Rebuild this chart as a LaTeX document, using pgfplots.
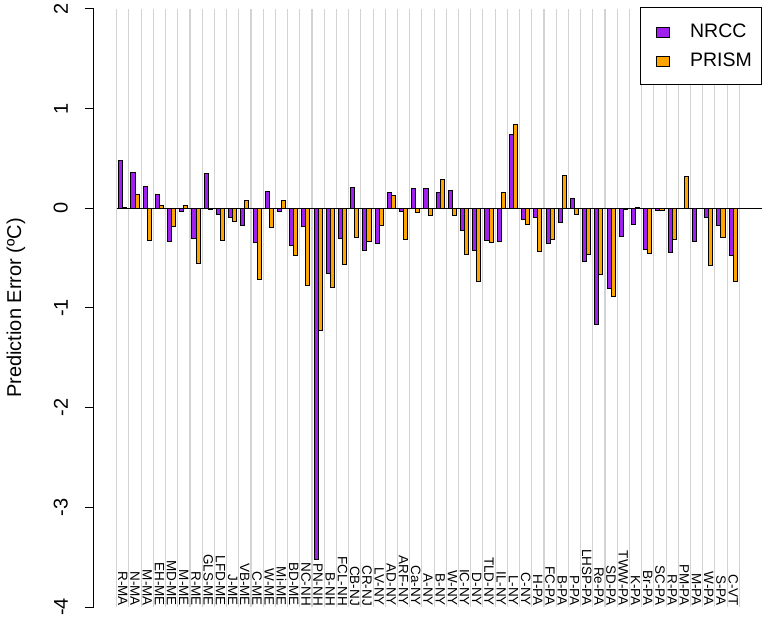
\documentclass[border=0pt]{standalone}
\usepackage{fontspec}
\setmainfont{Liberation Sans}
\usepackage{pgfplots}
\usepackage{pgfplotstable}
\pgfplotsset{compat=1.18}
\definecolor{nrcc}{HTML}{A020F0}
\definecolor{prism}{HTML}{FFA500}
\definecolor{gridgray}{RGB}{211,211,211}
\pgfplotstableread{
k nrcc prism
1 0.48 0.01
2 0.36 0.14
3 0.22 -0.32
4 0.14 0.03
5 -0.33 -0.18
6 -0.03 0.03
7 -0.30 -0.55
8 0.35 -0.01
9 -0.06 -0.32
10 -0.09 -0.13
11 -0.17 0.08
12 -0.34 -0.71
13 0.17 -0.19
14 -0.03 0.08
15 -0.37 -0.47
16 -0.18 -0.77
17 -3.52 -1.23
18 -0.65 -0.79
19 -0.30 -0.56
20 0.21 -0.29
21 -0.42 -0.33
22 -0.35 -0.17
23 0.16 0.13
24 -0.03 -0.31
25 0.20 -0.04
26 0.20 -0.07
27 0.16 0.29
28 0.18 -0.07
29 -0.22 -0.46
30 -0.42 -0.73
31 -0.32 -0.34
32 -0.33 0.16
33 0.74 0.84
34 -0.11 -0.16
35 -0.09 -0.43
36 -0.35 -0.31
37 -0.14 0.33
38 0.10 -0.06
39 -0.53 -0.46
40 -1.17 -0.66
41 -0.80 -0.88
42 -0.28 -0.01
43 -0.16 0.01
44 -0.41 -0.45
45 -0.02 -0.02
46 -0.44 -0.31
47 -0.005 0.32
48 -0.33 0.00
49 -0.09 -0.57
50 -0.17 -0.29
51 -0.47 -0.73
}\datatable
\begin{document}
\begin{tikzpicture}
\path[use as bounding box] (-94bp,-12bp) rectangle (674bp,607bp);
\begin{axis}[
  at={(0,0)}, anchor=south west,
  scale only axis,
  width=668bp, height=598bp,
  xmin=-1.36, xmax=53.36,
  ymin=-4, ymax=2,
  axis x line=bottom,
  axis y line=left,
  x axis line style={draw=none},
  y axis line style={-, line width=1bp, black},
  xtick={1,...,51},
  xticklabels={R-MA,N-MA,M-MA,EH-ME,MD-ME,M-ME,R-ME,GLS-ME,LFD-ME,J-ME,VB-ME,C-ME,W-ME,Mi-ME,BD-ME,NC-NH,PN-NH,B-NH,FCL-NH,CB-NJ,CR-NJ,LV-NY,AD-NY,ARF-NY,Ca-NY,A-NY,B-NY,W-NY,IC-NY,D-NY,TLD-NY,IL-NY,L-NY,C-NY,H-PA,FC-PA,B-PA,P-PA,LHSP-PA,Re-PA,SD-PA,TWW-PA,K-PA,Br-PA,SC-PA,R-PA,PM-PA,M-PA,W-PA,S-PA,C-VT},
  minor xtick={0.5,1.5,...,51.5},
  xminorgrids,
  minor grid style={draw=gridgray, line width=1.1bp},
  xtick style={draw=none},
  minor x tick style={draw=none},
  xticklabel style={rotate=-90, anchor=east, inner sep=0pt, font=\fontsize{13.5bp}{16bp}\selectfont},
  xticklabel shift=-10bp,
  ytick={-4,-3,-2,-1,0,1,2},
  yticklabels={-4,-3,-2,-1,0,1,2},
  ytick align=outside,
  ytick style={line width=1bp, black},
  major tick length=9bp,
  yticklabel style={rotate=90, anchor=south, inner sep=0pt, font=\fontsize{20bp}{24bp}\selectfont},
  yticklabel shift=17bp,
  ylabel={Prediction Error (ºC)},
  every axis y label/.style={at={([xshift=-78bp]rel axis cs:0,0.5)}, anchor=center, rotate=90, font=\fontsize{20bp}{24bp}\selectfont},
  ybar, bar width=0.3333,
  legend cell align=left,
  legend style={at={(rel axis cs:1,1)}, anchor=north east, yshift=2bp, draw=black, line width=1.2bp,
    inner xsep=9.5bp, inner ysep=16.5bp, column sep=20bp, row sep=14bp,
    nodes={inner sep=0pt}, font=\fontsize{19.5bp}{23bp}\selectfont},
]
\addplot[fill=nrcc, draw=black, line width=1bp, bar shift=-0.16667,
  legend image code/.code={\path (0bp,0bp); \draw[fill=nrcc, draw=black, line width=1bp] (5.5bp,-6bp) rectangle (18.8bp,4bp);}]
  table[x=k, y=nrcc] {\datatable};
\addlegendentry{NRCC}
\addplot[fill=prism, draw=black, line width=1bp, bar shift=0.16667,
  legend image code/.code={\path (0bp,0bp); \draw[fill=prism, draw=black, line width=1bp] (5.5bp,-6bp) rectangle (18.8bp,4bp);}]
  table[x=k, y=prism] {\datatable};
\addlegendentry{PRISM}
\draw[black, line width=1.3bp] (axis cs:0.5,0) -- (axis cs:53.36,0);
\end{axis}
\end{tikzpicture}
\end{document}
